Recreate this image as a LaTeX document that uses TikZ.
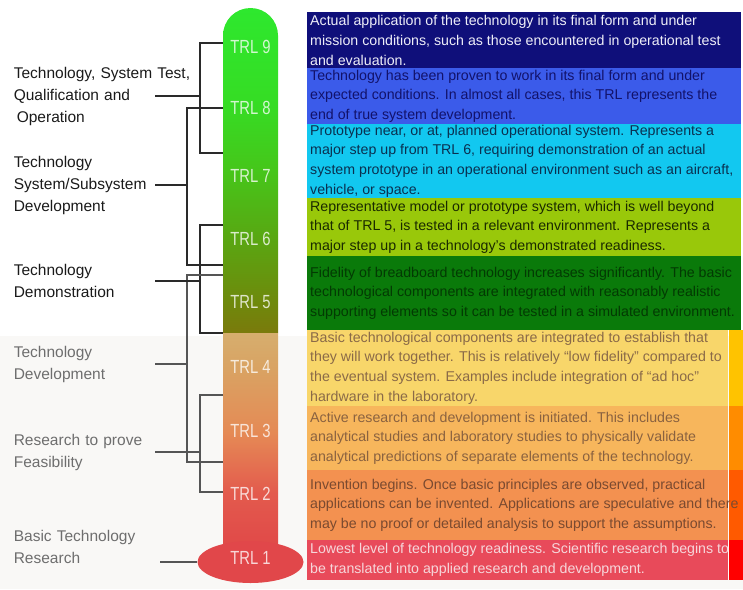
\documentclass[tikz,border=0pt]{standalone}
\usepackage{fontspec}
\setmainfont{Liberation Sans}
\newfontfamily\trlfont[FakeStretch=0.78]{Liberation Sans}
\usetikzlibrary{shapes.geometric}
\definecolor{navyT}{HTML}{0F0F7A}
\definecolor{blueT}{HTML}{3B5BEA}
\definecolor{cyanT}{HTML}{12C8F0}
\definecolor{limeT}{HTML}{99C80A}
\definecolor{greenT}{HTML}{0A7A0A}
\definecolor{yellowT}{HTML}{F8D66A}
\definecolor{orangeT}{HTML}{F7B65C}
\definecolor{darkorT}{HTML}{F39150}
\definecolor{redT}{HTML}{E84A5A}
\definecolor{yellowS}{HTML}{FFC300}
\definecolor{orangeS}{HTML}{FF8C00}
\definecolor{darkorS}{HTML}{FF5A00}
\definecolor{redS}{HTML}{FF0000}
\definecolor{txNavy}{HTML}{EEEEF8}
\definecolor{txBlue}{HTML}{12126A}
\definecolor{txCyan}{HTML}{0A3050}
\definecolor{txLime}{HTML}{1A2A00}
\definecolor{txGreen}{HTML}{033A03}
\definecolor{txYellow}{HTML}{8A6A48}
\definecolor{txOrange}{HTML}{8A6240}
\definecolor{txDarkor}{HTML}{7A4A30}
\definecolor{txRed}{HTML}{F6D6DA}
\definecolor{grpDark}{HTML}{1A1A1A}
\definecolor{grpLight}{HTML}{6E6E6E}
\definecolor{linkDark}{HTML}{2A2A2A}
\definecolor{linkLight}{HTML}{555555}
\definecolor{bulbC}{HTML}{E1474A}
\definecolor{bgLow}{HTML}{F9F8F6}
% tube colours, top to bottom
\definecolor{gA}{HTML}{2EE82E}
\definecolor{gB}{HTML}{36DC24}
\definecolor{gC}{HTML}{46C61A}
\definecolor{gD}{HTML}{58A812}
\definecolor{gE}{HTML}{6E8A0C}
\definecolor{gF}{HTML}{7A7A0C}
\definecolor{rA}{HTML}{D6AE6E}
\definecolor{rB}{HTML}{D9A363}
\definecolor{rC}{HTML}{E58A55}
\definecolor{rD}{HTML}{E35A4D}
\definecolor{rE}{HTML}{E04848}
\pgfdeclareverticalshading{greentube}{100bp}{color(0bp)=(gF); color(25bp)=(gF);
  color(30bp)=(gE); color(40bp)=(gD); color(50bp)=(gC); color(60bp)=(gB);
  color(75bp)=(gA); color(100bp)=(gA)}
\pgfdeclareverticalshading{redtube}{100bp}{color(0bp)=(rE); color(25bp)=(rE);
  color(38bp)=(rD); color(52bp)=(rC); color(67bp)=(rB); color(75bp)=(rA);
  color(100bp)=(rA)}
\tikzset{
  boxD/.style={rectangle, anchor=north west, minimum width=434pt, inner sep=0pt},
  boxL/.style={boxD, minimum width=421pt},
  stripR/.style={rectangle, anchor=north west, minimum width=15pt, inner sep=0pt},
  descT/.style={anchor=west, align=left, inner sep=0pt,
                font=\fontsize{14.2}{19.8}\selectfont},
  trl/.style={text=white, text opacity=0.78, inner sep=0pt,
              font=\trlfont\fontsize{19}{19}\selectfont},
  grp/.style={anchor=east, align=left, text width=141pt, inner sep=0pt,
              font=\fontsize{15.5}{22}\selectfont},
  link/.style={draw=linkDark, line width=1.1pt},
}
\begin{document}
\begin{tikzpicture}[x=1pt, y=-1pt]
    \useasboundingbox (0,0) rectangle (743,589);
    \fill[bgLow] (0,336) rectangle (743,589);

    % description boxes
    \node[boxD, fill=navyT, minimum height=56pt] (b9) at (307,12) {};
    \node[boxD, fill=blueT, minimum height=56pt] (b8) at (307,68) {};
    \node[boxD, fill=cyanT, minimum height=74pt] (b7) at (307,124) {};
    \node[boxD, fill=limeT, minimum height=58pt] (b6) at (307,198) {};
    \node[boxD, fill=greenT, minimum height=74pt] (b5) at (307,256) {};
    \node[boxL, fill=yellowT, minimum height=76pt] (b4) at (307,330) {};
    \node[boxL, fill=orangeT, minimum height=64pt] (b3) at (307,406) {};
    \node[boxL, fill=darkorT, minimum height=70pt] (b2) at (307,470) {};
    \node[boxL, fill=redT, minimum height=40pt] (b1) at (307,540) {};
    \node[stripR, fill=yellowS, minimum height=76pt] (s4) at (b4.north east) {};
    \node[stripR, fill=orangeS, minimum height=64pt] (s3) at (b3.north east) {};
    \node[stripR, fill=darkorS, minimum height=70pt] (s2) at (b2.north east) {};
    \node[stripR, fill=redS, minimum height=40pt] (s1) at (b1.north east) {};

    \node[descT, text=txNavy] (t9) at ([xshift=3pt]b9.west)
      {Actual application of the technology in its final form and under\\
       mission conditions, such as those encountered in operational test\\
       and evaluation.};
    \node[descT, text=txBlue] (t8) at ([xshift=3pt]b8.west)
      {Technology has been proven to work in its final form and under\\
       expected conditions. In almost all cases, this TRL represents the\\
       end of true system development.};
    \node[descT, text=txCyan] (t7) at ([xshift=3pt]b7.west)
      {Prototype near, or at, planned operational system. Represents a\\
       major step up from TRL 6, requiring demonstration of an actual\\
       system prototype in an operational environment such as an aircraft,\\
       vehicle, or space.};
    \node[descT, text=txLime] (t6) at ([xshift=3pt]b6.west)
      {Representative model or prototype system, which is well beyond\\
       that of TRL 5, is tested in a relevant environment. Represents a\\
       major step up in a technology's demonstrated readiness.};
    \node[descT, text=txGreen] (t5) at ([xshift=3pt]b5.west)
      {Fidelity of breadboard technology increases significantly. The basic\\
       technological components are integrated with reasonably realistic\\
       supporting elements so it can be tested in a simulated environment.};
    \node[descT, text=txYellow] (t4) at ([xshift=3pt]b4.west)
      {Basic technological components are integrated to establish that\\
       they will work together. This is relatively ``low fidelity'' compared to\\
       the eventual system. Examples include integration of ``ad hoc''\\
       hardware in the laboratory.};
    \node[descT, text=txOrange] (t3) at ([xshift=3pt]b3.west)
      {Active research and development is initiated. This includes\\
       analytical studies and laboratory studies to physically validate\\
       analytical predictions of separate elements of the technology.};
    \node[descT, text=txDarkor] (t2) at ([xshift=3pt]b2.west)
      {Invention begins. Once basic principles are observed, practical\\
       applications can be invented. Applications are speculative and there\\
       may be no proof or detailed analysis to support the assumptions.};
    \node[descT, text=txRed] (t1) at ([xshift=3pt]b1.west)
      {Lowest level of technology readiness. Scientific research begins to\\
       be translated into applied research and development.};

    % thermometer
    \shade[shading=greentube] (223,333) -- (223,35.5)
      arc[start angle=180, end angle=0, radius=27.5pt] -- (278,333) -- cycle;
    \shade[shading=redtube] (223,333) rectangle (278,550);
    \node[ellipse, fill=bulbC, minimum width=106pt, minimum height=42pt,
          inner sep=0pt] (bulb) at (250.5,562) {};
    \foreach \n/\y in {9/47, 8/108, 7/176, 6/239, 5/302, 4/367, 3/431, 2/494}
      \node[trl] (l\n) at (250.5,\y) {TRL \n};
    \node[trl] (l1) at (250.5,558) {TRL 1};

    % brackets to the tube
    \foreach \x/\ya/\yb in {200/43/153, 187/108/265, 200/225/333}
      \draw[link] (223,\ya) -| (\x,\yb) -- (223,\yb);
    \foreach \x/\ya/\yb in {187/275/462, 200/395/492}
      \draw[link, draw=linkLight] (223,\ya) -| (\x,\yb) -- (223,\yb);

    % stage labels
    \node[grp, text=grpDark] (g1) at (155,96)
      {\mbox{Technology, System Test,}\\Qualification and\\\hspace*{3pt}Operation};
    \node[grp, text=grpDark] (g2) at (155,185)
      {Technology\\System/Subsystem\\Development};
    \node[grp, text=grpDark] (g3) at (155,281)
      {Technology\\Demonstration};
    \node[grp, text=grpLight] (g4) at (155,364)
      {Technology\\Development};
    \node[grp, text=grpLight] (g5) at (155,452)
      {Research to prove\\Feasibility};
    \node[grp, text=grpLight] (g6) at (155,547)
      {Basic Technology\\Research};
    \draw[link] (g1.east) -- ++(45,0);
    \draw[link] (g2.east) -- ++(32,0);
    \draw[link] (g3.east) -- ++(45,0);
    \draw[link, draw=linkLight] (g4.east) -- ++(32,0);
    \draw[link, draw=linkLight] (g5.east) -- ++(45,0);
    \draw[link, draw=linkLight] ([xshift=5pt]g6.east |- bulb.west) -- (bulb.west);
\end{tikzpicture}
\end{document}
